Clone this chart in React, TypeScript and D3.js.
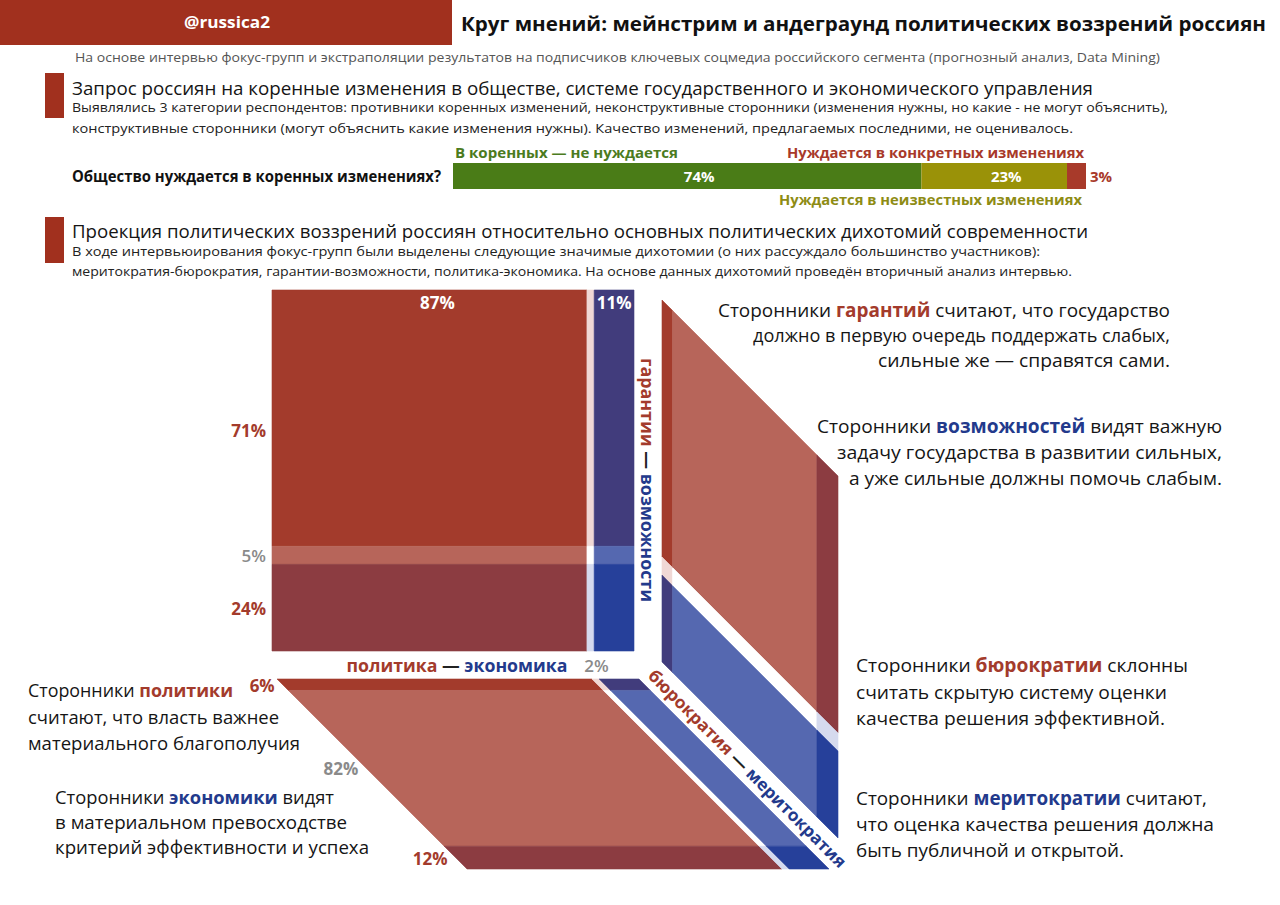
import React from 'react';
import * as d3 from 'd3';

// ---------- DATA ----------
const needLabels = ['В коренных — не нуждается', 'Нуждается в неизвестных изменениях', 'Нуждается в конкретных изменениях'];
const needValues = [74, 23, 3];

const polEconLabels = ['политика', 'экономика'];
const polEconValues = [87, 2, 11];
const garVozLabels = ['гарантии', 'возможности'];
const garVozValues = [71, 5, 24];
const burMerLabels = ['бюрократия', 'меритократия'];
const burMerValues = [6, 82, 12];

// ---------- STYLE ----------
const RED = '#A33B2C';
const BLUE = '#233A8C';
const GREY = '#8A8A8A';
const FONT = '"Open Sans", "DejaVu Sans", sans-serif';
const PAL = [
  ['#A33B2C', '#B7655A', '#8C3C41'],
  ['#F0D8D5', '#FFFFFF', '#D5DAEE'],
  ['#413C7C', '#5568B0', '#26409A'],
];
const BAR_COLORS = ['#4A7C17', '#9A9208', '#A83A2A'];
const BAR_TEXT = ['#4B7B20', '#8E8C14', '#A8392A'];

type V = [number, number];
type Seg = [string, string | null, number?];

const cumul = (vals: number[]) => {
  let s = 0;
  return vals.map((v) => {
    const a = s;
    s += v;
    return [a, s, (a + s) / 2];
  });
};

function faceCells(origin: V, u: V, v: V, uVals: number[], vVals: number[], hueOnU: boolean) {
  const su = d3.scaleLinear().domain([0, d3.sum(uVals)]).range([0, 1]);
  const sv = d3.scaleLinear().domain([0, d3.sum(vVals)]).range([0, 1]);
  const P = (a: number, b: number): V => [
    origin[0] + u[0] * su(a) + v[0] * sv(b),
    origin[1] + u[1] * su(a) + v[1] * sv(b),
  ];
  const out: { pts: V[]; fill: string }[] = [];
  cumul(uVals).forEach(([a0, a1], i) => {
    cumul(vVals).forEach(([b0, b1], j) => {
      const hue = hueOnU ? i : j;
      const shade = hueOnU ? j : i;
      out.push({ pts: [P(a0, b0), P(a1, b0), P(a1, b1), P(a0, b1)], fill: PAL[hue][shade] });
    });
  });
  return { cells: out, P };
}

function Txt(props: {
  x: number; y: number; w?: number; anchor?: string; size: number; weight?: number; fill?: string;
  segs: Seg[]; transform?: string;
}) {
  const { x, y, w, anchor = 'start', size, weight = 400, fill = '#151515', segs, transform } = props;
  return (
    <text
      x={x}
      y={y}
      transform={transform}
      textAnchor={anchor as any}
      dominantBaseline="central"
      fontFamily={FONT}
      fontSize={size}
      fontWeight={weight}
      fill={fill}
      textLength={w}
      lengthAdjust={w ? 'spacingAndGlyphs' : undefined}
      style={{ whiteSpace: 'pre' }}
    >
      {segs.map((s, i) => (
        <tspan key={i} fill={s[1] || undefined} fontWeight={s[2] || undefined}>
          {s[0]}
        </tspan>
      ))}
    </text>
  );
}

function Block(props: { x: number; ys: number[]; ws: number[]; anchor: string; size: number; lines: Seg[][] }) {
  return (
    <g>
      {props.lines.map((segs, i) => (
        <Txt key={i} x={props.x} y={props.ys[i]} w={props.ws[i]} anchor={props.anchor} size={props.size} segs={segs} />
      ))}
    </g>
  );
}

export default function App() {
  const W = 1280;
  const H = 905;

  // bar
  const xBar = d3.scaleLinear().domain([0, 100]).range([453, 1086]);
  const barC = cumul(needValues);

  // faces
  const S = 362;
  const front = faceCells([272, 290], [S, 0], [0, 361], polEconValues, garVozValues, true);
  const right = faceCells([662, 300], [176, 176], [0, S], burMerValues, garVozValues, false);
  const bottom = faceCells([277, 679], [S, 0], [190, 190], polEconValues, burMerValues, true);

  const peC = cumul(polEconValues);
  const gvC = cumul(garVozValues);
  const bmC = cumul(burMerValues);

  const poly = (pts: V[]) => pts.map((p) => p.join(',')).join(' ');

  return (
    <div style={{ position: 'absolute', left: 0, top: 0, width: W, height: H, background: '#fff' }}>
      <svg width={W} height={H} viewBox={`0 0 ${W} ${H}`} style={{ display: 'block' }}>
        <rect x={0} y={0} width={W} height={H} fill="#fff" />
        {/* header */}
        <rect x={0} y={0} width={452} height={45} fill="#A1301E" />
        <Txt x={227} y={22} w={86} anchor="middle" size={16} weight={700} fill="#fff" segs={[['@russica2', null]]} />
        <Txt x={461} y={23} w={805} size={20} weight={700} fill="#111"
          segs={[['Круг мнений: мейнстрим и андеграунд политических воззрений россиян', null]]} />
        <Txt x={75} y={57} w={1085} size={13.5} fill="#555"
          segs={[['На основе интервью фокус-групп и экстраполяции результатов на подписчиков ключевых соцмедиа российского сегмента (прогнозный анализ, Data Mining)', null]]} />

        {/* section 1 */}
        <rect x={45} y={73} width={19} height={45} fill="#A1301E" />
        <Txt x={72} y={87} w={1021} size={18.5} segs={[['Запрос россиян на коренные изменения в обществе, системе государственного и экономического управления', null]]} />
        <Txt x={72} y={107} w={1096} size={13.5} fill="#222"
          segs={[['Выявлялись 3 категории респондентов: противники коренных изменений, неконструктивные сторонники (изменения нужны, но какие - не могут объяснить),', null]]} />
        <Txt x={72} y={128} w={1001} size={13.5} fill="#222"
          segs={[['конструктивные сторонники (могут объяснить какие изменения нужны). Качество изменений, предлагаемых последними, не оценивалось.', null]]} />

        <Txt x={72} y={176} w={369} size={15.5} weight={700} fill="#111" segs={[['Общество нуждается в коренных изменениях?', null]]} />
        {barC.map(([a, b, m], i) => (
          <rect key={i} x={xBar(a)} y={163} width={xBar(b) - xBar(a)} height={26} fill={BAR_COLORS[i]} />
        ))}
        {barC.map(([a, b, m], i) =>
          i < 2 ? (
            <Txt key={'v' + i} x={xBar(m) + 12} y={176} anchor="middle" size={15} weight={700} fill="#fff" segs={[[needValues[i] + '%', null]]} />
          ) : (
            <Txt key={'v' + i} x={xBar(b) + 4} y={176} size={15} weight={700} fill={BAR_TEXT[i]} segs={[[needValues[i] + '%', null]]} />
          )
        )}
        <Txt x={xBar(0) + 2} y={152} w={223} size={15} weight={700} fill={BAR_TEXT[0]} segs={[[needLabels[0], null]]} />
        <Txt x={xBar(100) - 2} y={152} w={297} anchor="end" size={15} weight={700} fill={BAR_TEXT[2]} segs={[[needLabels[2], null]]} />
        <Txt x={xBar(100) - 4} y={199} w={303} anchor="end" size={15} weight={700} fill={BAR_TEXT[1]} segs={[[needLabels[1], null]]} />

        {/* section 2 */}
        <rect x={45} y={217} width={19} height={46} fill="#A1301E" />
        <Txt x={72} y={230} w={1016} size={18.5} segs={[['Проекция политических воззрений россиян относительно основных политических дихотомий современности', null]]} />
        <Txt x={72} y={251} w={968} size={13.5} fill="#222"
          segs={[['В ходе интервьюирования фокус-групп были выделены следующие значимые дихотомии (о них рассуждало большинство участников):', null]]} />
        <Txt x={72} y={271} w={1000} size={13.5} fill="#222"
          segs={[['меритократия-бюрократия, гарантии-возможности, политика-экономика. На основе данных дихотомий проведён вторичный анализ интервью.', null]]} />

        {/* faces */}
        {[front, right, bottom].map((f, k) => (
          <g key={k}>
            {f.cells.map((c, i) => (
              <polygon key={i} points={poly(c.pts)} fill={c.fill} stroke={c.fill} strokeWidth={0.6} />
            ))}
          </g>
        ))}

        {/* front labels */}
        <Txt x={front.P(peC[0][2], 0)[0] + 8} y={302} anchor="middle" size={17} weight={700} fill="#fff" segs={[[polEconValues[0] + '%', null]]} />
        <Txt x={front.P(peC[2][2], 0)[0]} y={302} anchor="middle" size={17} weight={700} fill="#fff" segs={[[polEconValues[2] + '%', null]]} />
        {gvC.map(([a, b, m], i) => (
          <Txt key={'gv' + i} x={266} y={front.P(0, m)[1] + (i === 0 ? 12 : 0)} anchor="end" size={17}
            weight={i === 1 ? 600 : 700}
            fill={i === 1 ? GREY : RED} segs={[[garVozValues[i] + '%', null]]} />
        ))}
        <Txt x={front.P(peC[1][2], 0)[0] + 6} y={665} anchor="middle" size={17} weight={600} fill={GREY} segs={[[polEconValues[1] + '%', null]]} />
        <Txt x={457} y={665} w={221} anchor="middle" size={17} weight={700}
          segs={[[polEconLabels[0], RED], [' — ', '#222'], [polEconLabels[1], BLUE]]} />

        {/* vertical label */}
        <Txt x={0} y={0} transform="translate(648,480) rotate(90)" w={244} anchor="middle" size={17} weight={700}
          segs={[[garVozLabels[0], RED], [' — ', '#222'], [garVozLabels[1], BLUE]]} />

        {/* diagonal label */}
        <Txt x={0} y={0} transform="translate(748,768) rotate(45)" w={272} anchor="middle" size={17} weight={700}
          segs={[[burMerLabels[0], RED], [' — ', '#222'], [burMerLabels[1], BLUE]]} />

        {/* bottom face labels */}
        {bmC.map(([a, b, m], i) => {
          const p = bottom.P(0, m);
          return (
            <Txt key={'bm' + i} x={p[0] - 8} y={p[1]} anchor="end" size={17} weight={700}
              fill={i === 1 ? GREY : RED} segs={[[burMerValues[i] + '%', null]]} />
          );
        })}

        {/* explanatory blocks */}
        <Block x={1170} ys={[310, 335, 360]} ws={[452, 417, 292]} anchor="end" size={19}
          lines={[
            [['Сторонники ', null], ['гарантий', RED, 700], [' считают, что государство', null]],
            [['должно в первую очередь поддержать слабых,', null]],
            [['сильные же — справятся сами.', null]],
          ]} />
        <Block x={1222} ys={[426, 452, 478]} ws={[405, 385, 373]} anchor="end" size={19}
          lines={[
            [['Сторонники ', null], ['возможностей', BLUE, 700], [' видят важную', null]],
            [['задачу государства в развитии сильных,', null]],
            [['а уже сильные должны помочь слабым.', null]],
          ]} />
        <Block x={856} ys={[665, 692, 718]} ws={[332, 311, 309]} anchor="start" size={19}
          lines={[
            [['Сторонники ', null], ['бюрократии', RED, 700], [' склонны', null]],
            [['считать скрытую систему оценки', null]],
            [['качества решения эффективной.', null]],
          ]} />
        <Block x={856} ys={[798, 824, 850]} ws={[351, 358, 268]} anchor="start" size={19}
          lines={[
            [['Сторонники ', null], ['меритократии', BLUE, 700], [' считают,', null]],
            [['что оценка качества решения должна', null]],
            [['быть публичной и открытой.', null]],
          ]} />
        <Block x={28} ys={[690, 717, 743]} ws={[205, 251, 272]} anchor="start" size={18}
          lines={[
            [['Сторонники ', null], ['политики', RED, 700]],
            [['считают, что власть важнее', null]],
            [['материального благополучия', null]],
          ]} />
        <Block x={55} ys={[797, 822, 847]} ws={[279, 292, 314]} anchor="start" size={18}
          lines={[
            [['Сторонники ', null], ['экономики', BLUE, 700], [' видят', null]],
            [['в материальном превосходстве', null]],
            [['критерий эффективности и успеха', null]],
          ]} />
      </svg>
    </div>
  );
}
